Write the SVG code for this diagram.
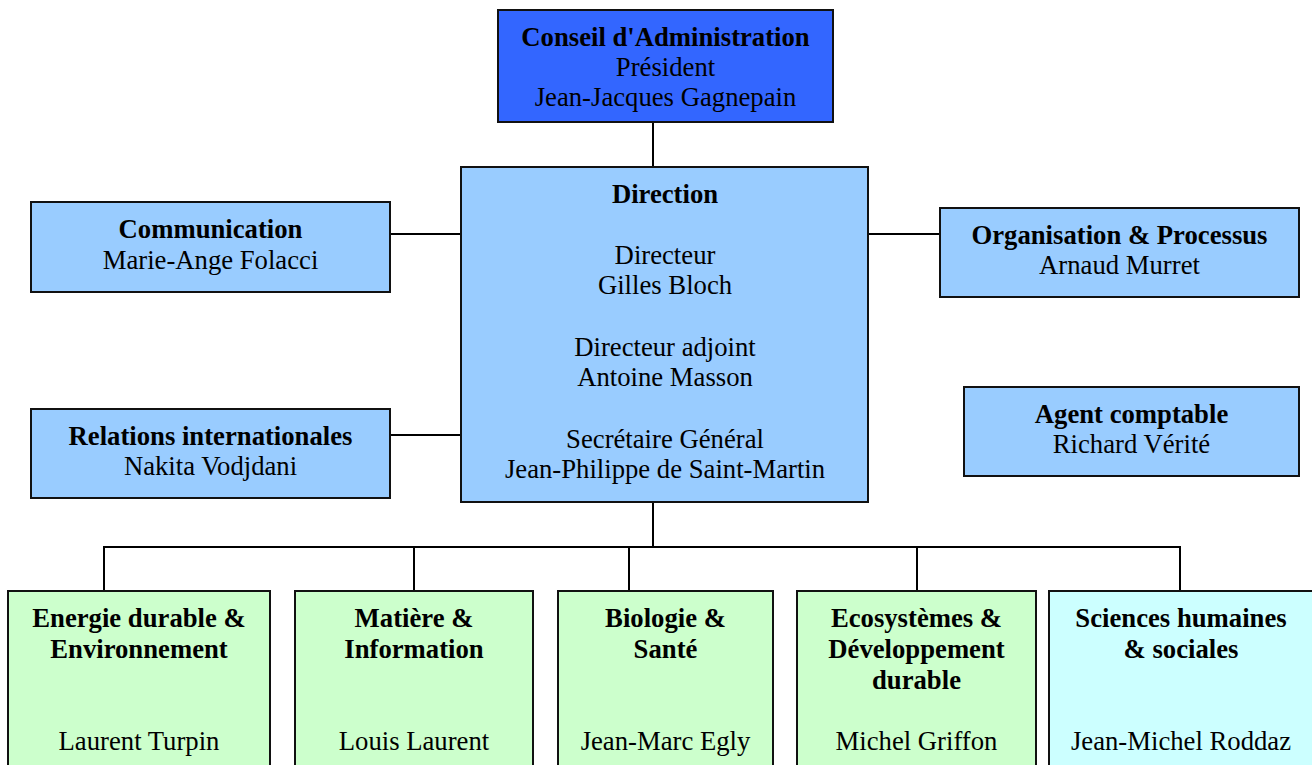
<svg xmlns="http://www.w3.org/2000/svg" width="1312" height="765" viewBox="0 0 1312 765">
<style>
.box{stroke:#111;stroke-width:2}
.blue{fill:#99CCFF}
.green{fill:#CCFFCC}
.cyan{fill:#CCFFFF}
text{font-family:"Liberation Serif","Times New Roman",serif;font-size:26.7px;fill:#000;text-anchor:middle}
.b{font-weight:bold}
.con{stroke:#000;stroke-width:2;fill:none}
</style>
<rect width="1312" height="765" fill="#fff"/>
<g id="connectors">
<path class="con" d="M653 122V167"/>
<path class="con" d="M390 234H461"/>
<path class="con" d="M390 435H461"/>
<path class="con" d="M868 234H940"/>
<path class="con" d="M653 502V547"/>
<path class="con" d="M104 591V547H1180V591"/>
<path class="con" d="M414 547V591"/>
<path class="con" d="M629 547V591"/>
<path class="con" d="M917 547V591"/>
</g>
<g id="conseil">
<rect class="box" x="498" y="10" width="335" height="112" fill="#3366FF"/>
<text class="b" x="665.5" y="46">Conseil d'Administration</text>
<text x="665.5" y="76">Président</text>
<text x="665.5" y="106">Jean-Jacques Gagnepain</text>
</g>
<g id="direction">
<rect class="box blue" x="461" y="167" width="407" height="335"/>
<text class="b" x="665" y="203">Direction</text>
<text x="665" y="264">Directeur</text>
<text x="665" y="294">Gilles Bloch</text>
<text x="665" y="356">Directeur adjoint</text>
<text x="665" y="386">Antoine Masson</text>
<text x="665" y="448">Secrétaire Général</text>
<text x="665" y="478">Jean-Philippe de Saint-Martin</text>
</g>
<g id="communication">
<rect class="box blue" x="31" y="202" width="359" height="90"/>
<text class="b" x="210.5" y="238">Communication</text>
<text x="210.5" y="269">Marie-Ange Folacci</text>
</g>
<g id="relations">
<rect class="box blue" x="31" y="409" width="359" height="89"/>
<text class="b" x="210.5" y="445">Relations internationales</text>
<text x="210.5" y="475">Nakita Vodjdani</text>
</g>
<g id="organisation">
<rect class="box blue" x="940" y="208" width="359" height="89"/>
<text class="b" x="1119.5" y="244">Organisation &amp; Processus</text>
<text x="1119.5" y="274">Arnaud Murret</text>
</g>
<g id="agent">
<rect class="box blue" x="964" y="387" width="335" height="89"/>
<text class="b" x="1131.5" y="423">Agent comptable</text>
<text x="1131.5" y="453">Richard Vérité</text>
</g>
<g id="energie">
<rect class="box green" x="8" y="591" width="262" height="190"/>
<text class="b" x="139" y="627">Energie durable &amp;</text>
<text class="b" x="139" y="658">Environnement</text>
<text x="139" y="750">Laurent Turpin</text>
</g>
<g id="matiere">
<rect class="box green" x="295" y="591" width="238" height="190"/>
<text class="b" x="414" y="627">Matière &amp;</text>
<text class="b" x="414" y="658">Information</text>
<text x="414" y="750">Louis Laurent</text>
</g>
<g id="biologie">
<rect class="box green" x="558" y="591" width="215" height="190"/>
<text class="b" x="665.5" y="627">Biologie &amp;</text>
<text class="b" x="665.5" y="658">Santé</text>
<text x="665.5" y="750">Jean-Marc Egly</text>
</g>
<g id="ecosystemes">
<rect class="box green" x="797" y="591" width="239" height="190"/>
<text class="b" x="916.5" y="627">Ecosystèmes &amp;</text>
<text class="b" x="916.5" y="658">Développement</text>
<text class="b" x="916.5" y="689">durable</text>
<text x="916.5" y="750">Michel Griffon</text>
</g>
<g id="sciences">
<rect class="box cyan" x="1049" y="591" width="280" height="190"/>
<text class="b" x="1181" y="627">Sciences humaines</text>
<text class="b" x="1181" y="658">&amp; sociales</text>
<text x="1181" y="750">Jean-Michel Roddaz</text>
</g>
</svg>
